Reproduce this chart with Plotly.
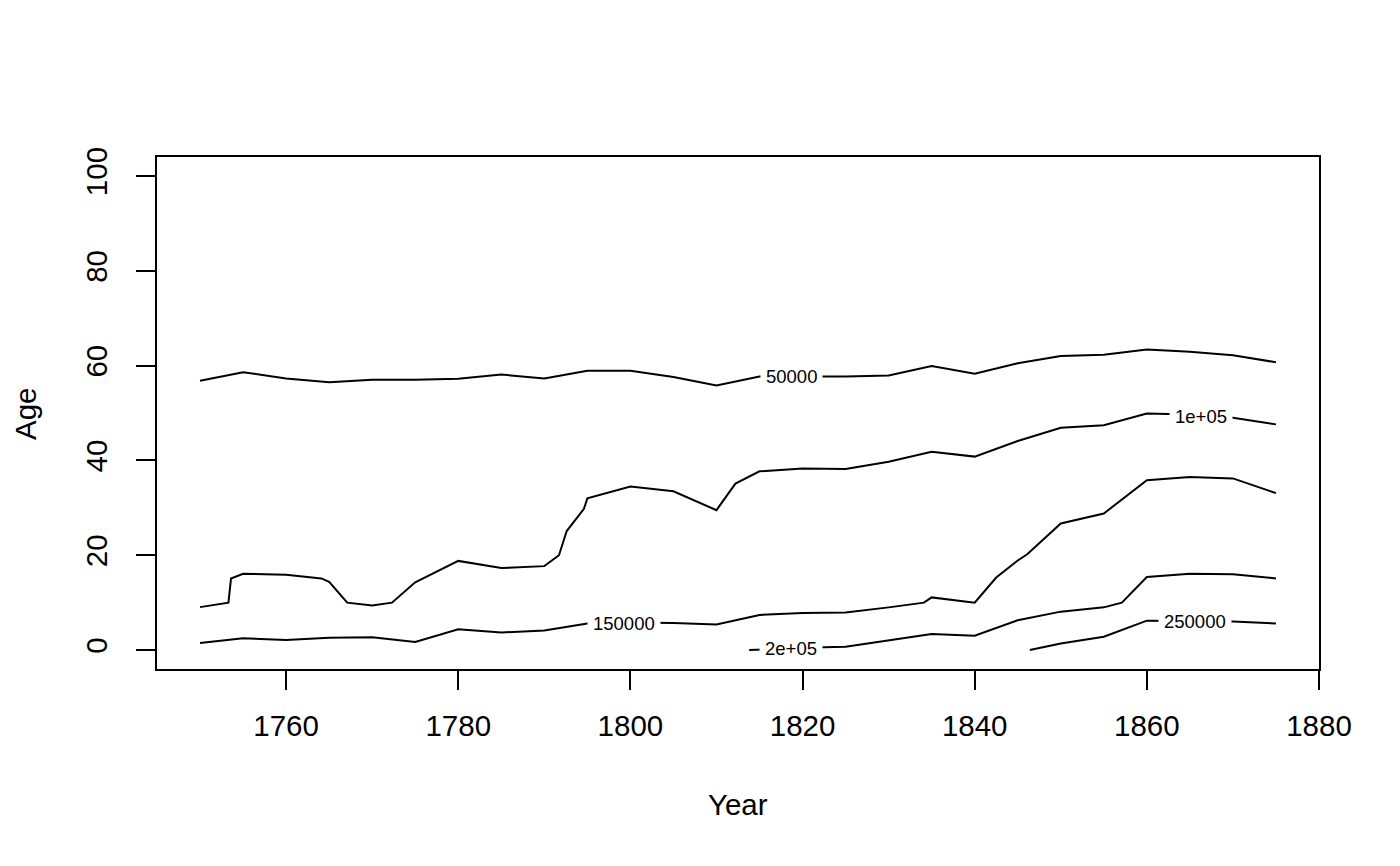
import plotly.graph_objects as go

# contour levels (year, age)
year_50k = [1750, 1755, 1760, 1765, 1770, 1775, 1780, 1785, 1790, 1795, 1800, 1805, 1810,
            1815, 1820, 1825, 1830, 1835, 1840, 1845, 1850, 1855, 1860, 1865, 1870, 1875]
age_50k = [56.8, 58.6, 57.3, 56.5, 57.0, 57.0, 57.2, 58.1, 57.3, 58.9, 58.9, 57.6, 55.8,
           57.7, 57.7, 57.7, 57.9, 59.9, 58.3, 60.5, 62.0, 62.3, 63.4, 62.9, 62.2, 60.7]

year_100k = [1750, 1753.3, 1753.6, 1755, 1760, 1764.1, 1765, 1767.1, 1770, 1772.3, 1775, 1780,
             1785, 1790, 1791.7, 1792.6, 1794.6, 1795, 1800, 1805, 1810, 1812.2, 1815, 1820,
             1825, 1830, 1835, 1840, 1845, 1850, 1855, 1860, 1865, 1870, 1875]
age_100k = [9.05, 10.0, 15.1, 16.1, 15.9, 15.1, 14.4, 10.0, 9.4, 10.0, 14.3, 18.8,
            17.3, 17.7, 20.0, 25.1, 29.8, 32.0, 34.5, 33.5, 29.5, 35.1, 37.7, 38.3,
            38.2, 39.7, 41.8, 40.8, 44.1, 46.9, 47.4, 49.9, 49.7, 49.0, 47.6]

year_150k = [1750, 1755, 1760, 1765, 1770, 1775, 1780, 1785, 1790, 1795, 1800, 1805, 1810,
             1815, 1820, 1825, 1830, 1834.1, 1835, 1840, 1842.5, 1845, 1846.1, 1849, 1850,
             1855, 1860, 1865, 1870, 1875]
age_150k = [1.5, 2.5, 2.1, 2.6, 2.7, 1.7, 4.4, 3.7, 4.1, 5.6, 5.8, 5.7, 5.4,
            7.4, 7.8, 7.9, 9.0, 10.0, 11.1, 10.0, 15.3, 18.9, 20.2, 25.1, 26.7,
            28.8, 35.8, 36.5, 36.2, 33.1]

year_200k = [1813.8, 1820, 1825, 1830, 1835, 1840, 1845, 1850, 1855, 1857.1, 1860, 1865, 1870, 1875]
age_200k = [0.0, 0.5, 0.7, 2.1, 3.4, 3.0, 6.3, 8.1, 9.0, 10.0, 15.4, 16.1, 16.0, 15.1]

year_250k = [1846.4, 1850, 1855, 1857.6, 1860, 1865, 1870, 1875]
age_250k = [0.0, 1.4, 2.8, 4.6, 6.2, 6.1, 6.0, 5.6]

levels = ["50000", "1e+05", "150000", "2e+05", "250000"]
level_years = [year_50k, year_100k, year_150k, year_200k, year_250k]
level_ages = [age_50k, age_100k, age_150k, age_200k, age_250k]
label_year = [1818.7, 1866.3, 1799.3, 1818.7, 1865.6]
label_age = [57.6, 49.3, 5.6, 0.4, 6.0]

font = "Liberation Sans, Arial, sans-serif"

fig = go.Figure()
for name, xs, ys in zip(levels, level_years, level_ages):
    fig.add_trace(go.Scatter(x=xs, y=ys, mode="lines", name=name,
                             line=dict(color="black", width=2), showlegend=False))

# contour labels sit on the line with a white patch behind them
for name, lx, ly in zip(levels, label_year, label_age):
    fig.add_annotation(x=lx, y=ly, text=name, showarrow=False, bgcolor="white",
                       borderpad=5, font=dict(family=font, size=18.5, color="black"))

fig.add_annotation(xref="paper", yref="paper", x=0.5, y=-0.2656, text="Year",
                   xanchor="center", yanchor="middle",
                   showarrow=False, font=dict(family=font, size=29.5, color="black"))
fig.add_annotation(xref="paper", yref="paper", x=-0.1136, y=0.5, text="Age", textangle=-90,
                   xanchor="center", yanchor="middle",
                   showarrow=False, font=dict(family=font, size=29.5, color="black"))

fig.update_xaxes(range=[1745, 1880], tickvals=[1760, 1780, 1800, 1820, 1840, 1860, 1880],
                 ticks="outside", ticklen=19, tickwidth=1.7, tickcolor="black",
                 showline=True, linecolor="black", linewidth=1.7, mirror=True,
                 showgrid=False, zeroline=False, ticklabelstandoff=11,
                 tickfont=dict(family=font, size=29.5, color="black"))
fig.update_yaxes(range=[-4, 104], tickvals=[0, 20, 40, 60, 80, 100], tickangle=-90,
                 ticks="outside", ticklen=19, tickwidth=1.7, tickcolor="black",
                 showline=True, linecolor="black", linewidth=1.7, mirror=True,
                 showgrid=False, zeroline=False, ticklabelstandoff=17,
                 tickfont=dict(family=font, size=29.5, color="black"))
# page body adds an 8px offset, so margins are trimmed to keep the box in place
fig.update_layout(width=1400, height=866, plot_bgcolor="white", paper_bgcolor="white",
                  margin=dict(l=149, r=89, t=149, b=205))

fig.write_html("out.html")
